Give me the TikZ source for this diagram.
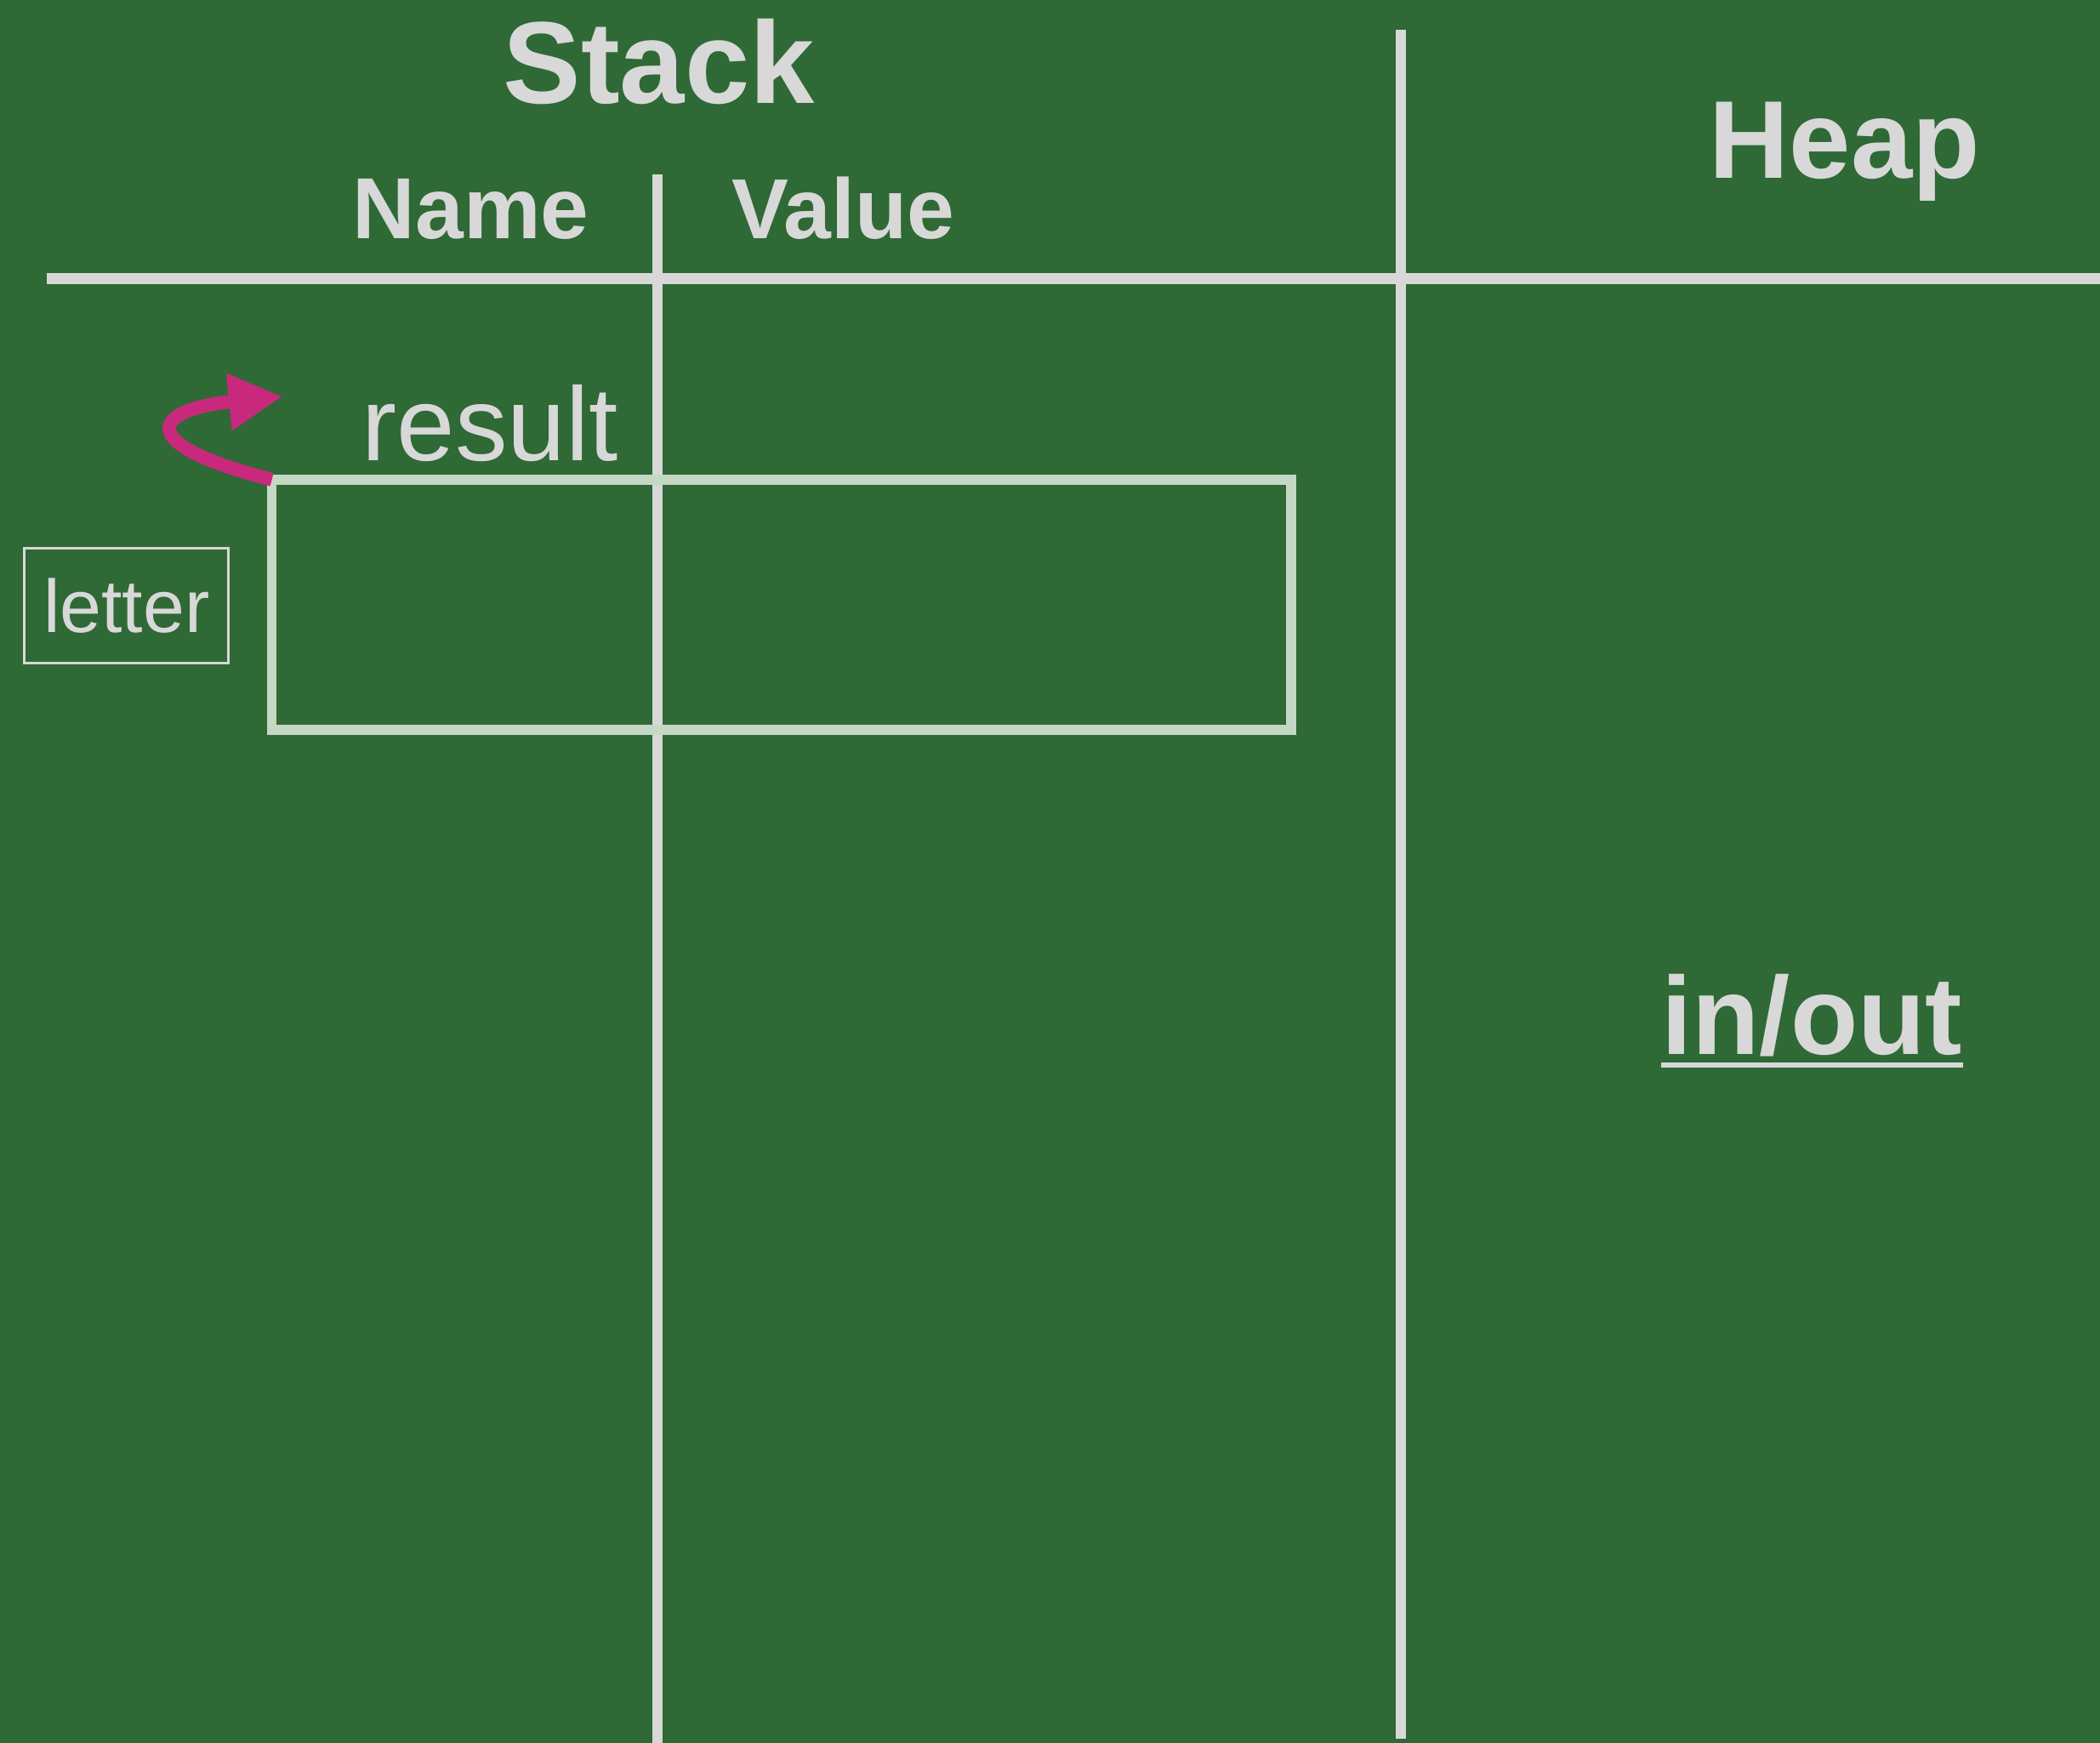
\documentclass[tikz,border=0pt]{standalone}
\usepackage{fontspec}
\setmainfont{Liberation Sans}
\usetikzlibrary{arrows.meta,calc}
\definecolor{board}{RGB}{47,105,53}
\definecolor{chalk}{RGB}{216,216,216}
\definecolor{slotline}{RGB}{196,216,196}
\definecolor{pointer}{RGB}{201,41,124}
\tikzset{
  rule/.style={draw=chalk, line width=3.6pt},
  head/.style={text=chalk, inner sep=0pt, font=\bfseries},
  word/.style={text=chalk, inner sep=0pt},
}
\begin{document}
\begin{tikzpicture}[x=0.15746mm, y=-0.15746mm]
      \fill[board] (0,0) rectangle (1568,1301);
      \clip (0,0) rectangle (1568,1301);
      % table lines
      \coordinate (hl) at (35,208);
      \coordinate (hr) at (1568,208);
      \coordinate (nvtop) at (491,130);
      \coordinate (nvbot) at (491,1301);
      \coordinate (shtop) at (1046,22);
      \coordinate (shbot) at (1046,1298);
      \draw[rule] (hl) -- (hr);
      \draw[rule] (nvtop) -- (nvbot);
      \draw[rule] (shtop) -- (shbot);
      % headings
      \node[head, font=\bfseries\fontsize{39}{39}\selectfont, anchor=base] (stack) at (492,77) {Stack};
      \node[head, font=\bfseries\fontsize{29}{29}\selectfont, anchor=base west] (name) at (263,178) {Name};
      \node[head, font=\bfseries\fontsize{28.5}{29}\selectfont, anchor=base west] (value) at (546,178) {Value};
      \node[head, font=\bfseries\fontsize{37}{37}\selectfont, anchor=base west] (heap) at (1276,133) {Heap};
      % the slot and its labels
      \coordinate (slotNW) at (203,358);
      \coordinate (slotSE) at (964,545);
      \draw[slotline, line width=3.3pt] (slotNW) rectangle (slotSE);
      \node[word, font=\fontsize{35}{35}\selectfont, anchor=base west] (result) at (270,344) {result};
      \node[word, font=\fontsize{25}{25}\selectfont, draw=chalk, line width=0.8pt,
            minimum width=68.3pt, minimum height=38.4pt] (letter) at (94.5,452) {letter};
      \coordinate (rtip) at (211,296);
      \draw[pointer, line width=4.5pt, -{Triangle[length=18pt, width=18pt]}]
        (slotNW) .. controls (100,332) and (112,306) .. (rtip);
      % in/out
      \node[head, font=\bfseries\fontsize{37}{37}\selectfont, anchor=base west] (inout) at (1240,787) {in/out};
      \draw[chalk, line width=1.7pt] ($(inout.base west)+(0,8)$) -- ($(inout.base east)+(0,8)$);
\end{tikzpicture}
\end{document}
